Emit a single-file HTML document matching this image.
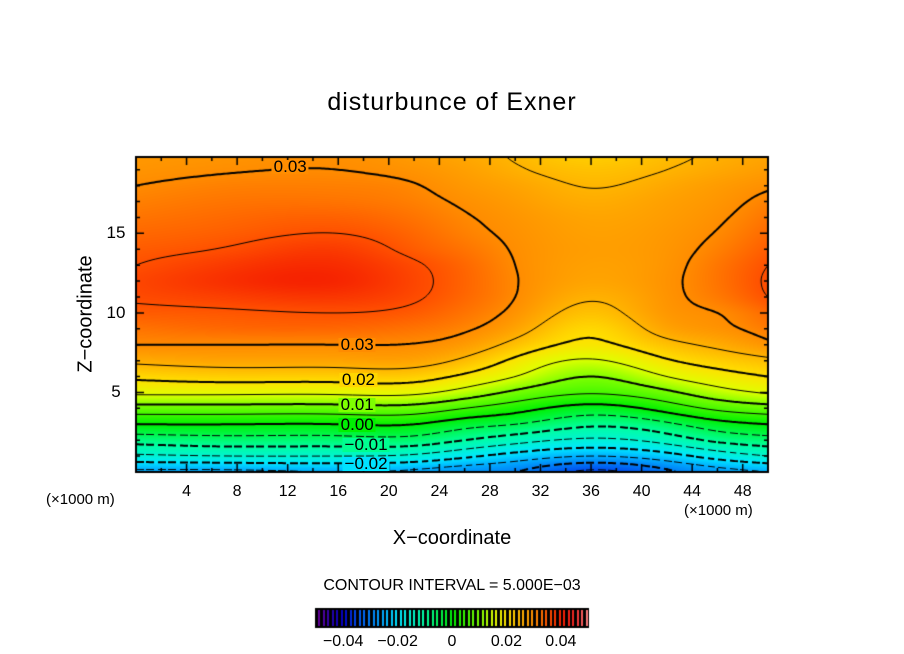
<!DOCTYPE html>
<html><head><meta charset="utf-8"><style>
body{margin:0;background:#fff;width:904px;height:654px;overflow:hidden;position:relative;font-family:"Liberation Sans",sans-serif}
.t{position:absolute;white-space:nowrap;color:#000}
</style></head><body>
<div class="t" style="left:0;width:904px;text-align:center;top:88px;font-size:25px;letter-spacing:1px">disturbunce of Exner</div>
<canvas id="cv" width="904" height="654" style="position:absolute;left:0;top:0"></canvas>
<div class="t" style="left:86px;top:314px;font-size:20px;transform:translate(-50%,-50%) rotate(-90deg)">Z−coordinate</div>
<div class="t" style="left:0;width:904px;text-align:center;top:527px;font-size:20px">X−coordinate</div>
<div class="t" style="left:46px;top:491px;font-size:15px">(×1000 m)</div>
<div class="t" style="left:684px;top:502px;font-size:15px">(×1000 m)</div>
<div class="t" style="left:0;width:904px;text-align:center;top:577px;font-size:16px">CONTOUR INTERVAL = 5.000E−03</div>
<div id="labels"></div>
<script>
// ---- data ----
const xCols=[0,8,16,22,26,30,36,42,46,50];
const zRows=[0,1,2,3,4,5,6,7,8,9,10,11,12,13,14,15,16,17,18,19,20];
const col0=[-0.026,-0.016,-0.008,0.000,0.008,0.016,0.021,0.026,0.030,0.032,0.034,0.0355,0.036,0.035,0.034,0.033,0.032,0.031,0.030,0.029,0.0285];
const col8=[-0.026,-0.015,-0.007,0.000,0.008,0.016,0.022,0.027,0.030,0.033,0.0345,0.0368,0.0385,0.0375,0.0355,0.034,0.033,0.032,0.031,0.0298,0.029];
const col16=[-0.025,-0.015,-0.007,0.000,0.008,0.016,0.022,0.027,0.030,0.033,0.035,0.0375,0.0392,0.0385,0.037,0.035,0.0335,0.032,0.031,0.030,0.0295];
const col22=[-0.026,-0.016,-0.007,0.000,0.008,0.016,0.022,0.027,0.0298,0.032,0.034,0.0355,0.036,0.0355,0.034,0.033,0.032,0.031,0.0302,0.029,0.028];
const col26=[-0.028,-0.019,-0.010,-0.003,0.005,0.013,0.019,0.024,0.028,0.0305,0.032,0.033,0.0333,0.033,0.032,0.031,0.0303,0.0295,0.0285,0.0275,0.0265];
const col30=[-0.030,-0.022,-0.013,-0.005,0.002,0.009,0.015,0.019,0.0235,0.027,0.029,0.030,0.0302,0.030,0.0297,0.0293,0.0288,0.028,0.027,0.0255,0.0245];
const col36=[-0.036,-0.025,-0.016,-0.009,-0.002,0.0055,0.010,0.0145,0.019,0.021,0.0235,0.0255,0.027,0.0275,0.0278,0.0275,0.027,0.026,0.0248,0.0235,0.022];
const col42=[-0.031,-0.022,-0.013,-0.006,0.002,0.009,0.015,0.0195,0.0235,0.027,0.0285,0.029,0.0292,0.029,0.0288,0.0285,0.028,0.0275,0.0265,0.025,0.024];
const col46=[-0.027,-0.018,-0.009,-0.002,0.006,0.013,0.018,0.022,0.026,0.029,0.030,0.0315,0.032,0.0318,0.031,0.0302,0.0295,0.0288,0.028,0.0265,0.0255];
const col50=[-0.025,-0.015,-0.007,0.000,0.008,0.0155,0.020,0.024,0.029,0.0315,0.033,0.035,0.0355,0.035,0.034,0.033,0.032,0.031,0.0295,0.028,0.027];
const columns=[col0,col8,col16,col22,col26,col30,col36,col42,col46,col50];
const xTicks=[4,8,12,16,20,24,28,32,36,40,44,48];
const zTicks=[5,10,15];
const cbTicks=[-0.04,-0.02,0,0.02,0.04];
const cbTickLabels=["−0.04","−0.02","0","0.02","0.04"];
const contourLabels=[["0.03",12.2,19.2],["0.03",17.5,8.0],["0.02",17.6,5.8],["0.01",17.5,4.2],["0.00",17.5,2.95],["−0.01",18.2,1.7],["−0.02",18.2,0.5]];
// ---- geometry ----
const X0=136,X1=768,Y0=157,Y1=472,XMAX=50,ZMAX=19.8;
const sx=v=>X0+v/XMAX*(X1-X0), sz=v=>Y1-v/ZMAX*(Y1-Y0);
function spline(xs,ys){
  const n=xs.length,h=[],al=[0],l=[1],mu=[0],zz=[0],c=new Array(n).fill(0),b=[],d=[];
  for(let i=0;i<n-1;i++)h[i]=xs[i+1]-xs[i];
  for(let i=1;i<n-1;i++)al[i]=3/h[i]*(ys[i+1]-ys[i])-3/h[i-1]*(ys[i]-ys[i-1]);
  for(let i=1;i<n-1;i++){l[i]=2*(xs[i+1]-xs[i-1])-h[i-1]*mu[i-1];mu[i]=h[i]/l[i];zz[i]=(al[i]-h[i-1]*zz[i-1])/l[i];}
  zz[n-1]=0;
  for(let j=n-2;j>=0;j--){c[j]=zz[j]-mu[j]*c[j+1];b[j]=(ys[j+1]-ys[j])/h[j]-h[j]*(c[j+1]+2*c[j])/3;d[j]=(c[j+1]-c[j])/(3*h[j]);}
  return x=>{let i=0;while(i<n-2&&x>xs[i+1])i++;const t=x-xs[i];return ys[i]+b[i]*t+c[i]*t*t+d[i]*t*t*t;};
}
const rowSplines=zRows.map((z,j)=>spline(xCols,columns.map(c=>c[j])));
const W=X1-X0,H=Y1-Y0;
const rowVals=rowSplines.map(f=>{const a=[];for(let px=0;px<=W;px++)a.push(f(px/W*XMAX));return a;});
function fieldPx(px,z){
  const n=zRows.length;let j=Math.max(0,Math.min(n-2,Math.floor(z)));const t=Math.max(0,Math.min(1,z-j));
  const g=k=>rowVals[Math.max(0,Math.min(n-1,k))][px];
  const p0=g(j-1),p1=g(j),p2=g(j+1),p3=g(j+2);
  return 0.5*((2*p1)+(-p0+p2)*t+(2*p0-5*p1+4*p2-p3)*t*t+(-p0+3*p1-3*p2+p3)*t*t*t);
}
function field(x,z){return fieldPx(Math.max(0,Math.min(W,Math.round(x/XMAX*W))),z);}
const stops=[[-0.05,[110,0,150]],[-0.045,[40,0,170]],[-0.04,[0,0,200]],[-0.035,[0,80,240]],[-0.025,[0,176,255]],[-0.02,[0,232,255]],[-0.01,[0,255,160]],[0,[0,240,0]],[0.01,[128,255,0]],[0.015,[224,255,0]],[0.02,[255,224,0]],[0.025,[255,180,0]],[0.03,[255,140,0]],[0.035,[255,80,0]],[0.04,[245,30,0]],[0.045,[240,40,40]],[0.05,[255,140,140]]];
function cmap(v){
  if(v<=stops[0][0])return stops[0][1];
  for(let k=0;k<stops.length-1;k++){const [a,ca]=stops[k],[b,cb]=stops[k+1];
    if(v<=b){const t=(v-a)/(b-a);return ca.map((c,m)=>Math.round(c+(cb[m]-c)*t));}}
  return stops[stops.length-1][1];
}
const cv=document.getElementById('cv'),ctx=cv.getContext('2d');
const img=ctx.createImageData(W,H);
for(let py=0;py<H;py++){const z=(H-py-0.5)/H*ZMAX;for(let px=0;px<W;px++){
  const c=cmap(fieldPx(px,z)),o=(py*W+px)*4;
  img.data[o]=c[0];img.data[o+1]=c[1];img.data[o+2]=c[2];img.data[o+3]=255;}}
ctx.putImageData(img,X0,Y0);
const G=2,nx=Math.floor(W/G),ny=Math.ceil(H/G),vals=[];
for(let j=0;j<=ny;j++){vals[j]=[];const z=(H-Math.min(j*G,H))/H*ZMAX;for(let i=0;i<=nx;i++)vals[j][i]=fieldPx(Math.min(i*G,W),z);}
ctx.save();ctx.beginPath();ctx.rect(X0,Y0,W,H);ctx.clip();
for(let k=-8;k<=7;k++){
  const L=k*0.005+1e-9;ctx.beginPath();
  for(let j=0;j<ny;j++)for(let i=0;i<nx;i++){
    const p=[[i,j,vals[j][i]],[i+1,j,vals[j][i+1]],[i+1,j+1,vals[j+1][i+1]],[i,j+1,vals[j+1][i]]],pts=[];
    for(let e=0;e<4;e++){const a=p[e],b=p[(e+1)%4];
      if((a[2]-L)*(b[2]-L)<0){const t=(L-a[2])/(b[2]-a[2]);pts.push([X0+(a[0]+(b[0]-a[0])*t)*G,Y0+(a[1]+(b[1]-a[1])*t)*G]);}}
    for(let q=0;q+1<pts.length;q+=2){
      if(k<0){const mx=(pts[q][0]+pts[q+1][0])/2;if(((mx-X0)%11)>7)continue;}
      ctx.moveTo(pts[q][0],pts[q][1]);ctx.lineTo(pts[q+1][0],pts[q+1][1]);}
  }
  ctx.strokeStyle='#000';ctx.lineWidth=(k%2===0)?2:1;ctx.stroke();
}
ctx.restore();
ctx.strokeStyle='#000';ctx.lineWidth=2;ctx.strokeRect(X0,Y0,W,H);
ctx.lineWidth=1.5;ctx.beginPath();
for(let v=2;v<XMAX;v+=2){const len=v%4===0?8:4,x=sx(v);ctx.moveTo(x,Y1);ctx.lineTo(x,Y1-len);ctx.moveTo(x,Y0);ctx.lineTo(x,Y0+len);}
for(let v=1;v<ZMAX;v++){const len=v%5===0?8:4,y=sz(v);ctx.moveTo(X0,y);ctx.lineTo(X0+len,y);ctx.moveTo(X1,y);ctx.lineTo(X1-len,y);}
ctx.stroke();
const CB0=316,CB1=588,CBY=609,CBH=18;
ctx.fillStyle='#000';ctx.fillRect(CB0-1,CBY-1,CB1-CB0+2,CBH+2);
for(let n=0;n<60;n++){const v=-0.05+(n+0.5)*0.1/60,x=CB0+2+n*(CB1-CB0-4)/59,c=cmap(v);
  ctx.fillStyle=`rgb(${c[0]},${c[1]},${c[2]})`;ctx.fillRect(Math.round(x),CBY+1,2,CBH-2);}
const lab=document.getElementById('labels');
function addText(name,txt,x,y,size,extra){const d=document.createElement('div');d.className='t';
  
  
  d.textContent=txt;d.style.cssText=`left:${x}px;top:${y}px;font-size:${size}px;transform:translate(-50%,-50%);${extra||''}`;lab.appendChild(d);}
xTicks.forEach(v=>addText('x-tick-label',String(v),sx(v),492,16));
zTicks.forEach(v=>addText('y-tick-label',String(v),116,sz(v),17));
cbTicks.forEach((v,i)=>addText('colorbar-tick-label',cbTickLabels[i],CB0+(v+0.05)/0.1*(CB1-CB0),642,16));
contourLabels.forEach(l=>{const c=cmap(field(l[1],l[2]));addText('contour-label',l[0],sx(l[1]),sz(l[2]),17,`background:rgb(${c[0]},${c[1]},${c[2]});padding:0 2px;line-height:14px`);});
</script>
</body></html>
